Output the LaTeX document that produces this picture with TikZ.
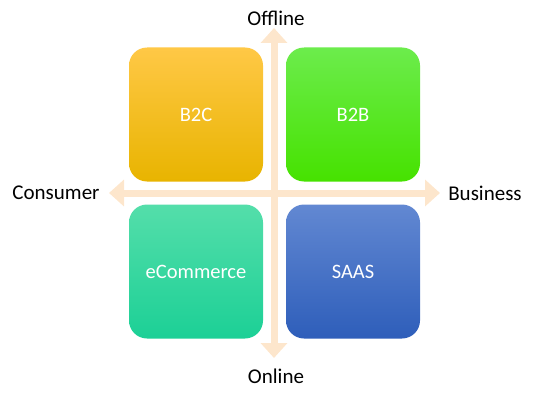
\documentclass[tikz,border=0pt]{standalone}
\usepackage{fontspec}
\setmainfont{Carlito}
\usetikzlibrary{arrows.meta}
\definecolor{axiscol}{RGB}{253,230,204}
\definecolor{btwocTop}{RGB}{255,200,70}
\definecolor{btwocMid}{RGB}{255,202,0}
\definecolor{btwocBot}{RGB}{232,180,0}
\definecolor{btwobTop}{RGB}{108,236,76}
\definecolor{btwobMid}{RGB}{78,234,20}
\definecolor{btwobBot}{RGB}{70,226,0}
\definecolor{ecomTop}{RGB}{84,222,170}
\definecolor{ecomMid}{RGB}{50,214,158}
\definecolor{ecomBot}{RGB}{28,208,150}
\definecolor{saasTop}{RGB}{98,136,210}
\definecolor{saasMid}{RGB}{66,110,200}
\definecolor{saasBot}{RGB}{46,94,186}
\begin{document}
\begin{tikzpicture}[x=1pt, y=1pt,
    quad/.style={rounded corners=18pt, minimum width=134pt, minimum height=134pt, inner sep=0pt,
                 text=white, font=\fontsize{20.5}{24}\selectfont},
    axislabel/.style={inner sep=0pt, font=\fontsize{21}{25}\selectfont},
    axisarrow/.style={axiscol, line width=7pt, {Triangle[width=26pt,length=15pt]}-{Triangle[width=26pt,length=15pt]}}]
    \useasboundingbox (0,0) rectangle (535,400);
    \node[quad, top color=btwocTop, middle color=btwocMid, bottom color=btwocBot] (b2c) at (196,285.5) {B2C};
    \node[quad, top color=btwobTop, middle color=btwobMid, bottom color=btwobBot] (b2b) at (353,285.5) {B2B};
    \node[quad, top color=ecomTop, middle color=ecomMid, bottom color=ecomBot] (ecom) at (196,128.5) {eCommerce};
    \node[quad, top color=saasTop, middle color=saasMid, bottom color=saasBot] (saas) at (353,128.5) {SAAS};
    \coordinate (offend) at (274,372);
    \coordinate (onend) at (274,42);
    \coordinate (conend) at (109,207);
    \coordinate (busend) at (440,207);
    \draw[axisarrow] (onend) -- (offend);
    \draw[axisarrow] (conend) -- (busend);
    \node[axislabel] (offline) at (276,382) {Offline};
    \node[axislabel] (online) at (276,24) {Online};
    \node[axislabel] (consumer) at (56,207) {Consumer};
    \node[axislabel] (business) at (485,207) {Business};
\end{tikzpicture}
\end{document}
